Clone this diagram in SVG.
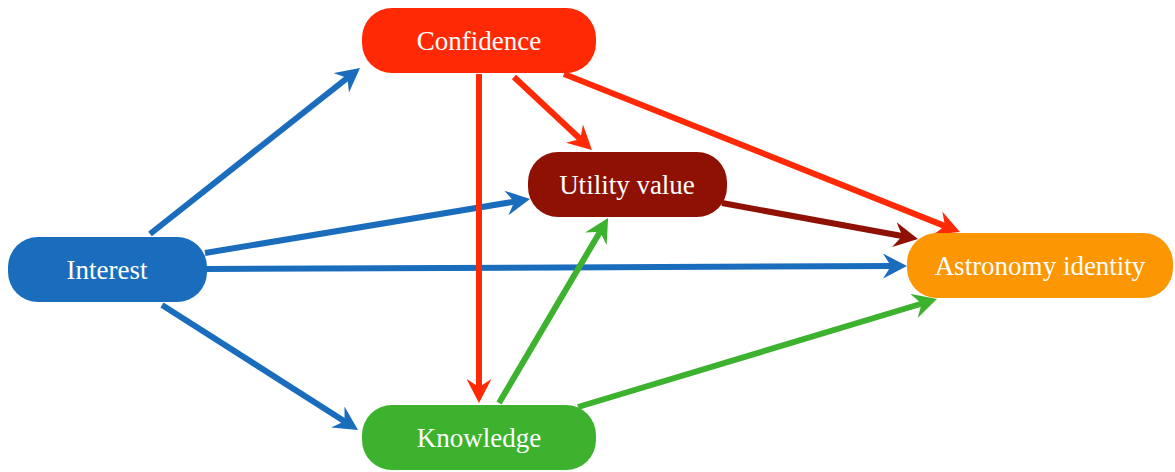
<svg xmlns="http://www.w3.org/2000/svg" width="1175" height="472" viewBox="0 0 1175 472">
<style>
.lbl{font-family:"Liberation Serif","Times New Roman",serif;font-size:27px;fill:#fff;text-anchor:middle;dominant-baseline:central}
.c{fill:none;stroke-width:6}
.blue{stroke:#1a6dbd}.red{stroke:#ff2a05}.dred{stroke:#8f1104}.green{stroke:#3cb22e}
</style>
<defs>
<marker id="mBlue" markerUnits="userSpaceOnUse" viewBox="0 0 24 25" refX="12" refY="12.5" markerWidth="24" markerHeight="25" orient="auto"><path d="M0,0 L24,12.5 L0,25 L8,12.5 Z" fill="#1a6dbd"/></marker>
<marker id="mRed" markerUnits="userSpaceOnUse" viewBox="0 0 24 25" refX="12" refY="12.5" markerWidth="24" markerHeight="25" orient="auto"><path d="M0,0 L24,12.5 L0,25 L8,12.5 Z" fill="#ff2a05"/></marker>
<marker id="mDred" markerUnits="userSpaceOnUse" viewBox="0 0 24 25" refX="12" refY="12.5" markerWidth="24" markerHeight="25" orient="auto"><path d="M0,0 L24,12.5 L0,25 L8,12.5 Z" fill="#8f1104"/></marker>
<marker id="mGreen" markerUnits="userSpaceOnUse" viewBox="0 0 24 25" refX="12" refY="12.5" markerWidth="24" markerHeight="25" orient="auto"><path d="M0,0 L24,12.5 L0,25 L8,12.5 Z" fill="#3cb22e"/></marker>
</defs>
<rect width="1175" height="472" fill="#fff"/>
<g id="connectors">
<path class="c blue" d="M150,234 L350.6,75.4" marker-end="url(#mBlue)"/>
<path class="c blue" d="M205,253 L518.2,201" marker-end="url(#mBlue)"/>
<path class="c blue" d="M207,269 L895,266" marker-end="url(#mBlue)"/>
<path class="c blue" d="M162,305 L347.9,423.5" marker-end="url(#mBlue)"/>
<path class="c red" d="M479,74 L479,391" marker-end="url(#mRed)"/>
<path class="c red" d="M514,77 L583.2,141.8" marker-end="url(#mRed)"/>
<path class="c red" d="M564,74 L948.8,227.6" marker-end="url(#mRed)"/>
<path class="c dred" d="M722,203 L906.2,236.8" marker-end="url(#mDred)"/>
<path class="c green" d="M499,403 L602,228.4" marker-end="url(#mGreen)"/>
<path class="c green" d="M578,407 L925.5,302.5" marker-end="url(#mGreen)"/>
</g>
<g id="confidence"><rect x="362" y="8" width="234" height="65" rx="30" fill="#ff2a05"/><text class="lbl" x="479" y="41">Confidence</text></g>
<g id="utility"><rect x="528" y="152" width="199" height="65" rx="30" fill="#8f1104"/><text class="lbl" x="627" y="185">Utility value</text></g>
<g id="interest"><rect x="8" y="237" width="199" height="65" rx="30" fill="#1a6dbd"/><text class="lbl" x="107" y="270">Interest</text></g>
<g id="astronomy"><rect x="907" y="233" width="266" height="65" rx="30" fill="#fc9603"/><text class="lbl" x="1040" y="266">Astronomy identity</text></g>
<g id="knowledge"><rect x="362" y="405" width="234" height="65" rx="30" fill="#3cb22e"/><text class="lbl" x="479" y="438">Knowledge</text></g>
</svg>
